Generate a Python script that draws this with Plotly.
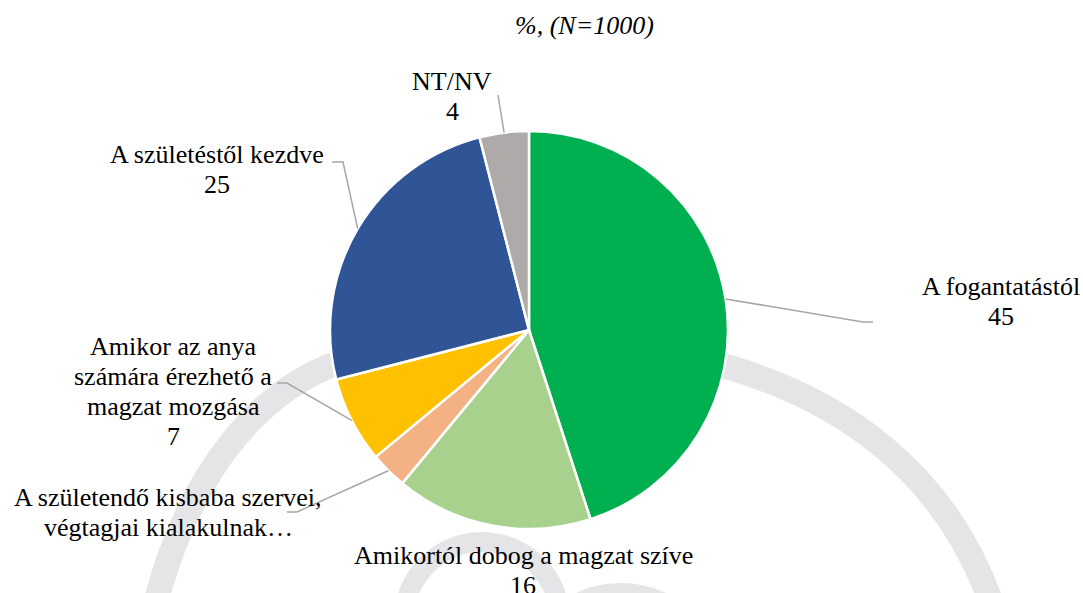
import math
import plotly.graph_objects as go

# ---- data ----
categories = [
    "A fogantatástól",
    "Amikortól dobog a magzat szíve",
    "A születendő kisbaba szervei, végtagjai kialakulnak…",
    "Amikor az anya számára érezhető a magzat mozgása",
    "A születéstől kezdve",
    "NT/NV",
]
values = [45, 16, 3, 7, 25, 4]
label_lines = [
    ["A fogantatástól"],
    ["Amikortól dobog a magzat szíve"],
    ["A születendő kisbaba szervei,", "végtagjai kialakulnak…"],
    ["Amikor az anya", "számára érezhető a", "magzat mozgása"],
    ["A születéstől kezdve"],
    ["NT/NV"],
]
show_value = [True, True, False, True, True, True]
colors = ["#00B050", "#A9D18E", "#F4B183", "#FFC000", "#2F5597", "#AEAAAA"]
title_text = "%, (N=1000)"

# ---- layout geometry (pixels) ----
W, H = 1083, 593
CX, CY, R = 529, 330, 199
FONT = "Liberation Serif"
FS = 26
LINE = 30
label_pos = [(1001, 286), (523, 555), (168, 497), (173, 346), (217, 154), (452, 81)]
leader_pts = [
    [(863, 322), (873, 322)],
    None,
    [(297, 512), (287, 512)],
    [(287, 383), (277, 383)],
    [(343, 162), (332, 162)],
    [(498, 95)],
]

fig = go.Figure()
fig.add_trace(go.Pie(
    labels=categories, values=values, sort=False, direction="clockwise", rotation=0,
    marker=dict(colors=colors, line=dict(color="white", width=2.5)),
    textinfo="none", hoverinfo="label+value", showlegend=False,
    domain=dict(x=[(CX - R) / W, (CX + R) / W], y=[1 - (CY + R) / H, 1 - (CY - R) / H]),
))

shapes = []
WM = "#E5E5E7"
# watermark (background decoration)
shapes.append(dict(type="path", xref="x", yref="y", layer="below",
                   path="M 155 605 C 190 470, 260 390, 340 362 C 420 334, 638 341, 728 367 "
                        "C 840 400, 945 470, 992 605",
                   line=dict(color=WM, width=25)))
shapes.append(dict(type="circle", xref="x", yref="y", layer="below",
                   x0=482 - 78, x1=482 + 78, y0=620 - 78, y1=620 + 78,
                   line=dict(color=WM, width=20)))
shapes.append(dict(type="circle", xref="x", yref="y", layer="below",
                   x0=621 - 106, x1=621 + 106, y0=689 - 106, y1=689 + 106,
                   fillcolor=WM, line=dict(width=0)))

# leader lines, starting at each slice's mid-angle on the rim
total = sum(values)
cum = 0
for i, v in enumerate(values):
    mid = (cum + v / 2) / total * 2 * math.pi
    cum += v
    if leader_pts[i] is None:
        continue
    sx = CX + R * math.sin(mid)
    sy = CY - R * math.cos(mid)
    path = f"M {sx:.1f} {sy:.1f} " + " ".join(f"L {x} {y}" for x, y in leader_pts[i])
    shapes.append(dict(type="path", xref="x", yref="y", path=path,
                       line=dict(color="#A6A6A6", width=1.5)))

annotations = []
for i, lines in enumerate(label_lines):
    lines = list(lines) + ([str(values[i])] if show_value[i] else [])
    x0, y0 = label_pos[i]
    for k, t in enumerate(lines):
        annotations.append(dict(x=x0, y=y0 + k * LINE, xref="x", yref="y", text=t,
                                showarrow=False, xanchor="center", yanchor="middle",
                                font=dict(family=FONT, size=FS, color="#000000")))
annotations.append(dict(x=584, y=25, xref="x", yref="y", text=title_text,
                        showarrow=False, xanchor="center", yanchor="middle",
                        font=dict(family=FONT, size=FS, color="#000000", style="italic")))

fig.update_layout(
    width=W, height=H, margin=dict(l=0, r=0, t=0, b=0),
    paper_bgcolor="white", plot_bgcolor="white",
    font=dict(family=FONT),
    xaxis=dict(range=[0, W], visible=False, fixedrange=True),
    yaxis=dict(range=[H, 0], visible=False, fixedrange=True),
    shapes=shapes, annotations=annotations,
)
fig.write_html("out.html", config={"displayModeBar": False},
               post_script="document.body.style.margin='0';")
